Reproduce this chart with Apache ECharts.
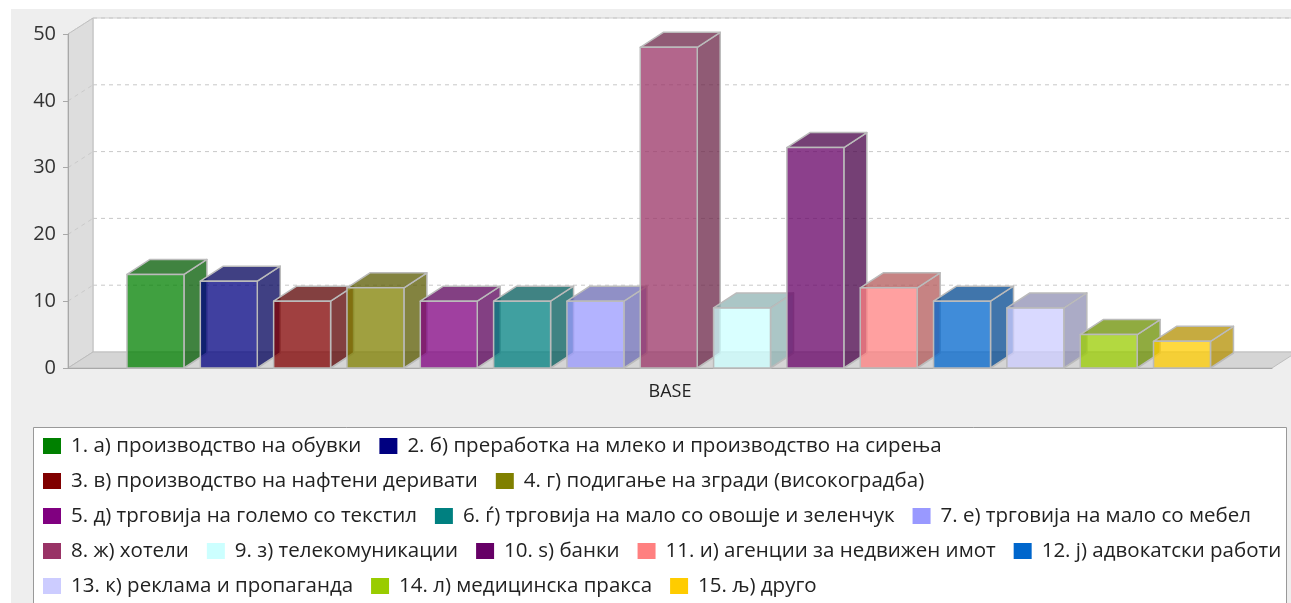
<!DOCTYPE html>
<html>
<head>
<meta charset="utf-8">
<script src="https://cdn.jsdelivr.net/npm/echarts/dist/echarts.min.js"></script>
<style>
  html, body { margin: 0; padding: 0; background: #ffffff; }
  #chart { width: 1291px; height: 603px; }
</style>
</head>
<body>
<div id="chart"></div>
<script>
// Category on the x axis
const categories = ['BASE'];

// One series per activity
const seriesNames = [
  '1. а) производство на обувки',
  '2. б) преработка на млеко и производство на сирења',
  '3. в) производство на нафтени деривати',
  '4. г) подигање на згради (високоградба)',
  '5. д) трговија на големо со текстил',
  '6. ѓ) трговија на мало со овошје и зеленчук',
  '7. е) трговија на мало со мебел',
  '8. ж) хотели',
  '9. з) телекомуникации',
  '10. ѕ) банки',
  '11. и) агенции за недвижен имот',
  '12. ј) адвокатски работи',
  '13. к) реклама и пропаганда',
  '14. л) медицинска пракса',
  '15. љ) друго'
];

const seriesValues = [14, 13, 10, 12, 10, 10, 10, 48, 9, 33, 12, 10, 9, 5, 4];

const seriesColors = [
  '#008000', '#000080', '#800000', '#808000', '#800080',
  '#008080', '#9999ff', '#993366', '#ccffff', '#660066',
  '#ff8080', '#0066cc', '#ccccff', '#99cc00', '#ffcc00'
];

const yTicks = [0, 10, 20, 30, 40, 50];

// Legend rows (indices into seriesNames)
const legendRows = [[0, 1], [2, 3], [4, 5, 6], [7, 8, 9, 10, 11], [12, 13, 14]];
const legendRowCenters = [446, 481, 516, 551, 586];

// 3D depth of walls and bars
const WALL_DX = 25, WALL_DY = 16;
const BAR_DX = 23, BAR_DY = 15;
const ALPHA = 0.75;

// Bar layout inside the category band (fractions of band width)
const BAND_MARGIN = 0.049;
const BAR_PITCH = 0.0609;
const BAR_WIDTH = 0.0473;

const FONT = 'Open Sans';

function hexToRgb(hex) {
  const n = parseInt(hex.slice(1), 16);
  return [(n >> 16) & 255, (n >> 8) & 255, n & 255];
}
function rgba(rgb, k, a) {
  return 'rgba(' + Math.round(rgb[0] * k) + ',' + Math.round(rgb[1] * k) + ',' + Math.round(rgb[2] * k) + ',' + a + ')';
}

const chart = echarts.init(document.getElementById('chart'), null, { renderer: 'canvas' });

// Walls, floor and back-wall grid lines
const wallsSeries = {
  type: 'custom',
  name: '__walls',
  silent: true,
  z: 0,
  data: [[categories[0], yTicks[yTicks.length - 1]]],
  renderItem: function (params, api) {
    const band = api.size([1, 0])[0];
    const cx = api.coord([categories[0], 0])[0];
    const xl = cx - band / 2, xr = cx + band / 2;
    const y0 = api.coord([categories[0], yTicks[0]])[1];
    const yTop = api.coord([categories[0], yTicks[yTicks.length - 1]])[1];
    const children = [];
    // back wall
    children.push({
      type: 'rect',
      shape: { x: xl + WALL_DX, y: yTop - WALL_DY, width: xr - xl, height: y0 - yTop },
      style: { fill: '#ffffff', stroke: '#cfcfcf', lineWidth: 1 }
    });
    // left wall
    children.push({
      type: 'polygon',
      shape: { points: [[xl, yTop], [xl + WALL_DX, yTop - WALL_DY], [xl + WALL_DX, y0 - WALL_DY], [xl, y0]] },
      style: { fill: '#dddddd', stroke: '#bdbdbd', lineWidth: 1 }
    });
    // floor
    children.push({
      type: 'polygon',
      shape: { points: [[xl, y0], [xl + WALL_DX, y0 - WALL_DY], [xr + WALL_DX, y0 - WALL_DY], [xr, y0]] },
      style: { fill: '#d5d5d5', stroke: '#bdbdbd', lineWidth: 1 }
    });
    // grid lines
    yTicks.forEach(function (t) {
      if (t === yTicks[0]) return;
      const y = api.coord([categories[0], t])[1];
      children.push({
        type: 'line',
        shape: { x1: xl + WALL_DX, y1: y - WALL_DY, x2: xr + WALL_DX, y2: y - WALL_DY },
        style: { stroke: '#c8c8c8', lineWidth: 1, lineDash: [4, 4] }
      });
      children.push({
        type: 'line',
        shape: { x1: xl, y1: y, x2: xl + WALL_DX, y2: y - WALL_DY },
        style: { stroke: '#cacaca', lineWidth: 1, lineDash: [4, 4] }
      });
    });
    return { type: 'group', children: children };
  }
};

function makeBarSeries(i) {
  const rgb = hexToRgb(seriesColors[i]);
  return {
    type: 'custom',
    name: seriesNames[i],
    z: 2,
    itemStyle: { color: seriesColors[i] },
    data: [[categories[0], seriesValues[i]]],
    renderItem: function (params, api) {
      const band = api.size([1, 0])[0];
      const p = api.coord([api.value(0), api.value(1)]);
      const y0 = api.coord([api.value(0), 0])[1];
      const yv = p[1];
      const x = p[0] - band / 2 + band * BAND_MARGIN + i * band * BAR_PITCH;
      const w = band * BAR_WIDTH;
      const edge = { stroke: '#bbbbbb', lineWidth: 1.5, lineJoin: 'round' };
      return {
        type: 'group',
        children: [
          {
            type: 'polygon',
            shape: { points: [[x + w, yv], [x + w + BAR_DX, yv - BAR_DY], [x + w + BAR_DX, y0 - BAR_DY], [x + w, y0]] },
            style: Object.assign({ fill: rgba(rgb, 0.7, ALPHA) }, edge)
          },
          {
            type: 'polygon',
            shape: { points: [[x, yv], [x + BAR_DX, yv - BAR_DY], [x + w + BAR_DX, yv - BAR_DY], [x + w, yv]] },
            style: Object.assign({ fill: rgba(rgb, 0.7, ALPHA) }, edge)
          },
          {
            type: 'rect',
            shape: { x: x, y: yv, width: w, height: y0 - yv },
            style: Object.assign({ fill: rgba(rgb, 1, ALPHA) }, edge)
          }
        ]
      };
    }
  };
}

const legends = legendRows.map(function (row, r) {
  return {
    data: row.map(function (k) { return seriesNames[k]; }),
    left: 43,
    top: legendRowCenters[r] - 12,
    orient: 'horizontal',
    icon: 'rect',
    itemWidth: 18,
    itemHeight: 16,
    itemGap: 18,
    padding: 0,
    selectedMode: false,
    textStyle: { fontFamily: FONT, fontSize: 20.5, lineHeight: 24, color: '#222222', padding: [0, 0, 0, 5] }
  };
});

const option = {
  animation: false,
  backgroundColor: '#ffffff',
  graphic: [
    {
      type: 'rect', z: -10,
      shape: { x: 11, y: 9, width: 1300, height: 620 },
      style: { fill: '#eeeeee' }
    },
    {
      type: 'rect', z: -9,
      shape: { x: 33.5, y: 427.5, width: 1253, height: 200 },
      style: { fill: '#ffffff', stroke: '#999999', lineWidth: 1 }
    }
  ],
  grid: { left: 68, right: 19, top: 34, bottom: 235, containLabel: false },
  xAxis: {
    type: 'category',
    data: categories,
    z: 1,
    axisLine: { show: true, lineStyle: { color: '#a8a8a8', width: 1 } },
    axisTick: { show: false },
    axisLabel: { margin: 15, fontFamily: FONT, fontSize: 18, color: '#222222' },
    splitLine: { show: false }
  },
  yAxis: {
    type: 'value',
    min: 0, max: 50, interval: 10,
    z: 1,
    axisLine: { show: true, lineStyle: { color: '#a8a8a8', width: 1 } },
    axisTick: { show: true, length: 5, lineStyle: { color: '#a8a8a8' } },
    axisLabel: { margin: 12, fontFamily: FONT, fontSize: 20, color: '#333333' },
    splitLine: { show: false }
  },
  legend: legends,
  series: [wallsSeries].concat(seriesNames.map(function (n, i) { return makeBarSeries(i); }))
};

chart.setOption(option);
</script>
</body>
</html>
